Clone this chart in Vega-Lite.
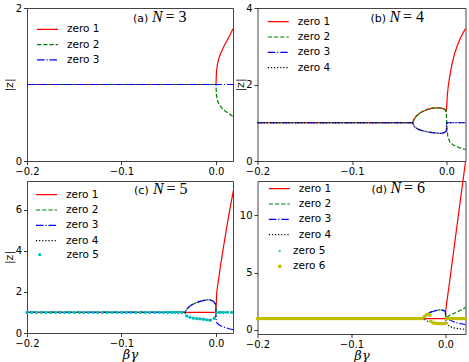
{
 "$schema": "https://vega.github.io/schema/vega-lite/v6.json",
 "padding": {"left": 2, "top": 2, "right": 0, "bottom": 0},
 "config": {
  "font": "DejaVu Sans",
  "view": {"stroke": "#444", "strokeWidth": 1},
  "axis": {"grid": false, "domain": false, "tickColor": "#222", "tickSize": 3.5, "tickWidth": 0.9, "labelFont": "DejaVu Sans", "labelFontSize": 10, "labelColor": "#000", "labelPadding": 2, "labelFlush": false, "titleFont": "DejaVu Sans", "titleFontSize": 11, "titleFontWeight": "normal", "titleColor": "#000"},
  "legend": {"title": null, "padding": 0, "labelFont": "DejaVu Sans", "labelFontSize": 10.5, "labelColor": "#000", "rowPadding": 4.3, "clipHeight": 11, "symbolStrokeWidth": 1.2},
  "line": {"strokeWidth": 1.2, "clip": true},
  "point": {"filled": true, "clip": true, "strokeWidth": 0, "opacity": 1}
 },
 "resolve": {
  "scale": {"x": "independent", "y": "independent", "color": "independent", "strokeDash": "independent", "fill": "independent", "shape": "independent", "size": "independent"},
  "legend": {"color": "independent", "strokeDash": "independent", "fill": "independent", "shape": "independent", "size": "independent"}
 },
 "columns": 2,
 "spacing": {"row": 20, "column": 24.5},
 "bounds": "flush",
 "align": "none",
 "concat": [
  {
   "width": 206, "height": 153,
   "layer": [
    {"data": {"name": "aL"}, "mark": "line",
     "encoding": {
      "x": {"field": "x", "type": "quantitative", "scale": {"domain": [-0.2, 0.018], "nice": false, "zero": false}, "axis": {"title": null, "values": [-0.2, -0.1, 0], "format": ".1f"}},
      "y": {"field": "y", "type": "quantitative", "scale": {"domain": [0, 2], "nice": false}, "axis": {"title": "|z|", "values": [0, 1, 2], "format": "d", "titleX": -13}},
      "color": {"field": "s", "type": "nominal", "scale": {"domain": ["zero 1", "zero 2", "zero 3"], "range": ["#ff0000", "#008000", "#0000ff"]}, "legend": {"orient": "none", "legendX": 9, "legendY": 15.8, "symbolSize": 441, "symbolType": "stroke", "labelOffset": 8}},
      "strokeDash": {"field": "s", "type": "nominal", "scale": {"domain": ["zero 1", "zero 2", "zero 3"], "range": [[1, 0], [4.3, 1.9], [7.5, 1.9, 1.2, 1.9]]}, "legend": {"orient": "none", "legendX": 9, "legendY": 15.8, "symbolSize": 441, "symbolType": "stroke", "labelOffset": 8}}
     }},
    {"data": {"values": [{"t": "(a)"}]}, "mark": {"type": "text", "align": "left", "baseline": "alphabetic", "font": "DejaVu Sans", "fontSize": 11}, "encoding": {"text": {"field": "t"}, "x": {"datum": -0.0878}, "y": {"datum": 1.817}}},
    {"data": {"values": [{"t": "N"}]}, "mark": {"type": "text", "align": "left", "baseline": "alphabetic", "font": "Liberation Serif", "fontSize": 16, "fontStyle": "italic"}, "encoding": {"text": {"field": "t"}, "x": {"datum": -0.0677}, "y": {"datum": 1.817}}},
    {"data": {"values": [{"t": "= 3"}]}, "mark": {"type": "text", "align": "left", "baseline": "alphabetic", "font": "Liberation Serif", "fontSize": 16}, "encoding": {"text": {"field": "t"}, "x": {"datum": -0.0535}, "y": {"datum": 1.817}}}
   ]
  },
  {
   "width": 208, "height": 153,
   "layer": [
    {"data": {"name": "bL"}, "mark": "line",
     "encoding": {
      "x": {"field": "x", "type": "quantitative", "scale": {"domain": [-0.2, 0.0201], "nice": false, "zero": false}, "axis": {"title": null, "values": [-0.2, -0.1, 0], "format": ".1f"}},
      "y": {"field": "y", "type": "quantitative", "scale": {"domain": [0, 4], "nice": false}, "axis": {"title": "|z|", "values": [0, 2, 4], "format": "d", "titleX": -12}},
      "color": {"field": "s", "type": "nominal", "scale": {"domain": ["zero 1", "zero 2", "zero 3", "zero 4"], "range": ["#ff0000", "#008000", "#0000ff", "#000000"]}, "legend": {"orient": "none", "legendX": 9.3, "legendY": 8.2, "symbolSize": 441, "symbolType": "stroke", "labelOffset": 8}},
      "strokeDash": {"field": "s", "type": "nominal", "scale": {"domain": ["zero 1", "zero 2", "zero 3", "zero 4"], "range": [[1, 0], [4.3, 1.9], [7.5, 1.9, 1.2, 1.9], [1.2, 1.9]]}, "legend": {"orient": "none", "legendX": 9.3, "legendY": 8.2, "symbolSize": 441, "symbolType": "stroke", "labelOffset": 8}}
     }},
    {"data": {"values": [{"t": "(b)"}]}, "mark": {"type": "text", "align": "left", "baseline": "alphabetic", "font": "DejaVu Sans", "fontSize": 11}, "encoding": {"text": {"field": "t"}, "x": {"datum": -0.0804}, "y": {"datum": 3.634}}},
    {"data": {"values": [{"t": "N"}]}, "mark": {"type": "text", "align": "left", "baseline": "alphabetic", "font": "Liberation Serif", "fontSize": 16, "fontStyle": "italic"}, "encoding": {"text": {"field": "t"}, "x": {"datum": -0.0603}, "y": {"datum": 3.634}}},
    {"data": {"values": [{"t": "= 4"}]}, "mark": {"type": "text", "align": "left", "baseline": "alphabetic", "font": "Liberation Serif", "fontSize": 16}, "encoding": {"text": {"field": "t"}, "x": {"datum": -0.0461}, "y": {"datum": 3.634}}}
   ]
  },
  {
   "width": 206, "height": 152,
   "layer": [
    {"data": {"name": "cL"}, "mark": "line",
     "encoding": {
      "x": {"field": "x", "type": "quantitative", "scale": {"domain": [-0.2, 0.018], "nice": false, "zero": false}, "axis": {"title": "βγ", "values": [-0.2, -0.1, 0], "format": ".1f", "titleFont": "DejaVu Serif", "titleFontStyle": "italic", "titleFontSize": 13, "titlePadding": 0}},
      "y": {"field": "y", "type": "quantitative", "scale": {"domain": [0, 7.4], "nice": false}, "axis": {"title": "|z|", "values": [0, 2, 4, 6], "format": "d", "titleX": -13}},
      "color": {"field": "s", "type": "nominal", "scale": {"domain": ["zero 1", "zero 2", "zero 3", "zero 4"], "range": ["#ff0000", "#008000", "#0000ff", "#000000"]}, "legend": {"orient": "none", "legendX": 8, "legendY": 8.2, "symbolSize": 441, "symbolType": "stroke", "labelOffset": 8}},
      "strokeDash": {"field": "s", "type": "nominal", "scale": {"domain": ["zero 1", "zero 2", "zero 3", "zero 4"], "range": [[1, 0], [4.3, 1.9], [7.5, 1.9, 1.2, 1.9], [1.2, 1.9]]}, "legend": {"orient": "none", "legendX": 8, "legendY": 8.2, "symbolSize": 441, "symbolType": "stroke", "labelOffset": 8}}
     }},
    {"data": {"name": "cP"}, "mark": {"type": "point", "size": 11},
     "encoding": {
      "x": {"field": "x", "type": "quantitative"},
      "y": {"field": "y", "type": "quantitative"},
      "fill": {"field": "s", "type": "nominal", "scale": {"domain": ["zero 5"], "range": ["#00bfbf"]}, "legend": {"orient": "none", "legendX": 7.5, "legendY": 68.2, "symbolSize": 11, "symbolType": "circle", "labelOffset": 21.5}}
     }},
    {"data": {"values": [{"t": "(c)"}]}, "mark": {"type": "text", "align": "left", "baseline": "alphabetic", "font": "DejaVu Sans", "fontSize": 11}, "encoding": {"text": {"field": "t"}, "x": {"datum": -0.0867}, "y": {"datum": 6.78}}},
    {"data": {"values": [{"t": "N"}]}, "mark": {"type": "text", "align": "left", "baseline": "alphabetic", "font": "Liberation Serif", "fontSize": 16, "fontStyle": "italic"}, "encoding": {"text": {"field": "t"}, "x": {"datum": -0.0667}, "y": {"datum": 6.78}}},
    {"data": {"values": [{"t": "= 5"}]}, "mark": {"type": "text", "align": "left", "baseline": "alphabetic", "font": "Liberation Serif", "fontSize": 16}, "encoding": {"text": {"field": "t"}, "x": {"datum": -0.0525}, "y": {"datum": 6.78}}}
   ]
  },
  {
   "width": 208, "height": 153,
   "layer": [
    {"data": {"name": "dL"}, "mark": "line",
     "encoding": {
      "x": {"field": "x", "type": "quantitative", "scale": {"domain": [-0.2, 0.0213], "nice": false, "zero": false}, "axis": {"title": "βγ", "values": [-0.2, -0.1, 0], "format": ".1f", "titleFont": "DejaVu Serif", "titleFontStyle": "italic", "titleFontSize": 13, "titlePadding": 0}},
      "y": {"field": "y", "type": "quantitative", "scale": {"domain": [-0.35, 13], "nice": false, "zero": false}, "axis": {"title": null, "values": [0, 5, 10], "format": "d"}},
      "color": {"field": "s", "type": "nominal", "scale": {"domain": ["zero 1", "zero 2", "zero 3", "zero 4"], "range": ["#ff0000", "#008000", "#0000ff", "#000000"]}, "legend": {"orient": "none", "legendX": 10.3, "legendY": 2.2, "symbolSize": 441, "symbolType": "stroke", "labelOffset": 8}},
      "strokeDash": {"field": "s", "type": "nominal", "scale": {"domain": ["zero 1", "zero 2", "zero 3", "zero 4"], "range": [[1, 0], [4.3, 1.9], [7.5, 1.9, 1.2, 1.9], [1.2, 1.9]]}, "legend": {"orient": "none", "legendX": 10.3, "legendY": 2.2, "symbolSize": 441, "symbolType": "stroke", "labelOffset": 8}}
     }},
    {"data": {"name": "dP"}, "mark": {"type": "point"},
     "encoding": {
      "x": {"field": "x", "type": "quantitative"},
      "y": {"field": "y", "type": "quantitative"},
      "fill": {"field": "s", "type": "nominal", "scale": {"domain": ["zero 5", "zero 6"], "range": ["#00bfbf", "#bfbf00"]}, "legend": {"orient": "none", "legendX": 17, "legendY": 64.5, "labelOffset": 8}},
      "shape": {"field": "s", "type": "nominal", "scale": {"domain": ["zero 5", "zero 6"], "range": ["circle", "square"]}, "legend": {"orient": "none", "legendX": 17, "legendY": 64.5, "labelOffset": 8}},
      "size": {"field": "s", "type": "nominal", "scale": {"domain": ["zero 5", "zero 6"], "range": [5, 10]}, "legend": {"orient": "none", "legendX": 17, "legendY": 64.5, "labelOffset": 8}}
     }},
    {"data": {"values": [{"t": "(d)"}]}, "mark": {"type": "text", "align": "left", "baseline": "alphabetic", "font": "DejaVu Sans", "fontSize": 11}, "encoding": {"text": {"field": "t"}, "x": {"datum": -0.0787}, "y": {"datum": 11.94}}},
    {"data": {"values": [{"t": "N"}]}, "mark": {"type": "text", "align": "left", "baseline": "alphabetic", "font": "Liberation Serif", "fontSize": 16, "fontStyle": "italic"}, "encoding": {"text": {"field": "t"}, "x": {"datum": -0.0585}, "y": {"datum": 11.94}}},
    {"data": {"values": [{"t": "= 6"}]}, "mark": {"type": "text", "align": "left", "baseline": "alphabetic", "font": "Liberation Serif", "fontSize": 16}, "encoding": {"text": {"field": "t"}, "x": {"datum": -0.0442}, "y": {"datum": 11.94}}}
   ]
  }
 ],
 "datasets": {
  "aL": [
   {"s": "zero 1", "x": -0.2, "y": 1}, {"s": "zero 1", "x": 0, "y": 1}, {"s": "zero 1", "x": 0.0005, "y": 1.17}, {"s": "zero 1", "x": 0.0015, "y": 1.26}, {"s": "zero 1", "x": 0.003, "y": 1.34}, {"s": "zero 1", "x": 0.005, "y": 1.41}, {"s": "zero 1", "x": 0.008, "y": 1.49}, {"s": "zero 1", "x": 0.011, "y": 1.56}, {"s": "zero 1", "x": 0.0145, "y": 1.64}, {"s": "zero 1", "x": 0.018, "y": 1.73},
   {"s": "zero 2", "x": -0.2, "y": 1}, {"s": "zero 2", "x": 0, "y": 1}, {"s": "zero 2", "x": 0.0005, "y": 0.86}, {"s": "zero 2", "x": 0.0015, "y": 0.79}, {"s": "zero 2", "x": 0.003, "y": 0.75}, {"s": "zero 2", "x": 0.005, "y": 0.71}, {"s": "zero 2", "x": 0.008, "y": 0.67}, {"s": "zero 2", "x": 0.011, "y": 0.64}, {"s": "zero 2", "x": 0.0145, "y": 0.61}, {"s": "zero 2", "x": 0.018, "y": 0.58},
   {"s": "zero 3", "x": -0.2, "y": 1}, {"s": "zero 3", "x": 0.018, "y": 1}
  ],
  "bL": [
   {"s": "zero 1", "x": -0.2, "y": 1}, {"s": "zero 1", "x": -0.036, "y": 1}, {"s": "zero 1", "x": -0.034, "y": 1.1}, {"s": "zero 1", "x": -0.032, "y": 1.17}, {"s": "zero 1", "x": -0.029, "y": 1.24}, {"s": "zero 1", "x": -0.025, "y": 1.3}, {"s": "zero 1", "x": -0.02, "y": 1.35}, {"s": "zero 1", "x": -0.015, "y": 1.38}, {"s": "zero 1", "x": -0.009, "y": 1.39}, {"s": "zero 1", "x": -0.005, "y": 1.38}, {"s": "zero 1", "x": -0.002, "y": 1.35}, {"s": "zero 1", "x": -0.0003, "y": 1.3}, {"s": "zero 1", "x": 0.0003, "y": 1.45}, {"s": "zero 1", "x": 0.0008, "y": 1.7}, {"s": "zero 1", "x": 0.0018, "y": 1.95}, {"s": "zero 1", "x": 0.0032, "y": 2.18}, {"s": "zero 1", "x": 0.0055, "y": 2.5}, {"s": "zero 1", "x": 0.0085, "y": 2.8}, {"s": "zero 1", "x": 0.0115, "y": 3.02}, {"s": "zero 1", "x": 0.0145, "y": 3.2}, {"s": "zero 1", "x": 0.0175, "y": 3.35}, {"s": "zero 1", "x": 0.0201, "y": 3.46},
   {"s": "zero 2", "x": -0.2, "y": 1}, {"s": "zero 2", "x": -0.036, "y": 1}, {"s": "zero 2", "x": -0.034, "y": 1.1}, {"s": "zero 2", "x": -0.032, "y": 1.17}, {"s": "zero 2", "x": -0.029, "y": 1.24}, {"s": "zero 2", "x": -0.025, "y": 1.3}, {"s": "zero 2", "x": -0.02, "y": 1.35}, {"s": "zero 2", "x": -0.015, "y": 1.38}, {"s": "zero 2", "x": -0.009, "y": 1.39}, {"s": "zero 2", "x": -0.005, "y": 1.38}, {"s": "zero 2", "x": -0.002, "y": 1.35}, {"s": "zero 2", "x": -0.0003, "y": 1.3}, {"s": "zero 2", "x": 0.0003, "y": 0.95}, {"s": "zero 2", "x": 0.0013, "y": 0.65}, {"s": "zero 2", "x": 0.0035, "y": 0.5}, {"s": "zero 2", "x": 0.0065, "y": 0.43}, {"s": "zero 2", "x": 0.01, "y": 0.38}, {"s": "zero 2", "x": 0.0134, "y": 0.35}, {"s": "zero 2", "x": 0.0201, "y": 0.3},
   {"s": "zero 3", "x": -0.2, "y": 1}, {"s": "zero 3", "x": -0.036, "y": 1}, {"s": "zero 3", "x": -0.034, "y": 0.9}, {"s": "zero 3", "x": -0.032, "y": 0.86}, {"s": "zero 3", "x": -0.029, "y": 0.82}, {"s": "zero 3", "x": -0.025, "y": 0.79}, {"s": "zero 3", "x": -0.02, "y": 0.76}, {"s": "zero 3", "x": -0.015, "y": 0.74}, {"s": "zero 3", "x": -0.01, "y": 0.73}, {"s": "zero 3", "x": -0.006, "y": 0.72}, {"s": "zero 3", "x": -0.0025, "y": 0.74}, {"s": "zero 3", "x": -0.0003, "y": 0.78}, {"s": "zero 3", "x": 0.0003, "y": 1}, {"s": "zero 3", "x": 0.0201, "y": 1},
   {"s": "zero 4", "x": -0.2, "y": 1}, {"s": "zero 4", "x": -0.036, "y": 1}, {"s": "zero 4", "x": -0.034, "y": 0.9}, {"s": "zero 4", "x": -0.032, "y": 0.86}, {"s": "zero 4", "x": -0.029, "y": 0.82}, {"s": "zero 4", "x": -0.025, "y": 0.79}, {"s": "zero 4", "x": -0.02, "y": 0.76}, {"s": "zero 4", "x": -0.015, "y": 0.74}, {"s": "zero 4", "x": -0.01, "y": 0.73}, {"s": "zero 4", "x": -0.006, "y": 0.72}, {"s": "zero 4", "x": -0.0025, "y": 0.74}, {"s": "zero 4", "x": -0.0003, "y": 0.78}, {"s": "zero 4", "x": 0.0003, "y": 1}, {"s": "zero 4", "x": 0.0201, "y": 1}
  ],
  "cL": [
   {"s": "zero 1", "x": -0.2, "y": 1}, {"s": "zero 1", "x": 0, "y": 1}, {"s": "zero 1", "x": 0.0003, "y": 1.45}, {"s": "zero 1", "x": 0.0008, "y": 2.0}, {"s": "zero 1", "x": 0.0025, "y": 2.54}, {"s": "zero 1", "x": 0.005, "y": 3.35}, {"s": "zero 1", "x": 0.0078, "y": 4.16}, {"s": "zero 1", "x": 0.0105, "y": 4.9}, {"s": "zero 1", "x": 0.0131, "y": 5.63}, {"s": "zero 1", "x": 0.0158, "y": 6.3}, {"s": "zero 1", "x": 0.0184, "y": 6.93},
   {"s": "zero 2", "x": -0.2, "y": 1}, {"s": "zero 2", "x": -0.033, "y": 1}, {"s": "zero 2", "x": -0.031, "y": 1.15}, {"s": "zero 2", "x": -0.0275, "y": 1.32}, {"s": "zero 2", "x": -0.024, "y": 1.41}, {"s": "zero 2", "x": -0.0204, "y": 1.48}, {"s": "zero 2", "x": -0.017, "y": 1.54}, {"s": "zero 2", "x": -0.0134, "y": 1.58}, {"s": "zero 2", "x": -0.01, "y": 1.61}, {"s": "zero 2", "x": -0.0063, "y": 1.61}, {"s": "zero 2", "x": -0.0028, "y": 1.55}, {"s": "zero 2", "x": -0.0005, "y": 1.4}, {"s": "zero 2", "x": 0.0005, "y": 1}, {"s": "zero 2", "x": 0.018, "y": 1},
   {"s": "zero 3", "x": -0.2, "y": 1}, {"s": "zero 3", "x": -0.033, "y": 1}, {"s": "zero 3", "x": -0.031, "y": 1.15}, {"s": "zero 3", "x": -0.0275, "y": 1.32}, {"s": "zero 3", "x": -0.024, "y": 1.41}, {"s": "zero 3", "x": -0.0204, "y": 1.48}, {"s": "zero 3", "x": -0.017, "y": 1.54}, {"s": "zero 3", "x": -0.0134, "y": 1.58}, {"s": "zero 3", "x": -0.01, "y": 1.61}, {"s": "zero 3", "x": -0.0063, "y": 1.61}, {"s": "zero 3", "x": -0.0028, "y": 1.55}, {"s": "zero 3", "x": -0.0005, "y": 1.4}, {"s": "zero 3", "x": 0.0002, "y": 0.62}, {"s": "zero 3", "x": 0.0008, "y": 0.5}, {"s": "zero 3", "x": 0.003, "y": 0.4}, {"s": "zero 3", "x": 0.006, "y": 0.33}, {"s": "zero 3", "x": 0.0095, "y": 0.27}, {"s": "zero 3", "x": 0.013, "y": 0.22}, {"s": "zero 3", "x": 0.018, "y": 0.16},
   {"s": "zero 4", "x": -0.2, "y": 1}, {"s": "zero 4", "x": -0.033, "y": 1}, {"s": "zero 4", "x": -0.031, "y": 0.85}, {"s": "zero 4", "x": -0.0275, "y": 0.77}, {"s": "zero 4", "x": -0.024, "y": 0.72}, {"s": "zero 4", "x": -0.0204, "y": 0.7}, {"s": "zero 4", "x": -0.017, "y": 0.69}, {"s": "zero 4", "x": -0.0134, "y": 0.67}, {"s": "zero 4", "x": -0.0099, "y": 0.64}, {"s": "zero 4", "x": -0.0063, "y": 0.62}, {"s": "zero 4", "x": -0.002, "y": 0.7}, {"s": "zero 4", "x": -0.0005, "y": 0.75}, {"s": "zero 4", "x": 0.0005, "y": 1}, {"s": "zero 4", "x": 0.018, "y": 1}
  ],
  "cP": [
   {"s": "zero 5", "x": -0.2, "y": 1}, {"s": "zero 5", "x": -0.195, "y": 1}, {"s": "zero 5", "x": -0.19, "y": 1}, {"s": "zero 5", "x": -0.185, "y": 1}, {"s": "zero 5", "x": -0.18, "y": 1}, {"s": "zero 5", "x": -0.175, "y": 1}, {"s": "zero 5", "x": -0.17, "y": 1}, {"s": "zero 5", "x": -0.165, "y": 1}, {"s": "zero 5", "x": -0.16, "y": 1}, {"s": "zero 5", "x": -0.155, "y": 1}, {"s": "zero 5", "x": -0.15, "y": 1}, {"s": "zero 5", "x": -0.145, "y": 1}, {"s": "zero 5", "x": -0.14, "y": 1}, {"s": "zero 5", "x": -0.135, "y": 1}, {"s": "zero 5", "x": -0.13, "y": 1}, {"s": "zero 5", "x": -0.125, "y": 1}, {"s": "zero 5", "x": -0.12, "y": 1}, {"s": "zero 5", "x": -0.115, "y": 1}, {"s": "zero 5", "x": -0.11, "y": 1}, {"s": "zero 5", "x": -0.105, "y": 1}, {"s": "zero 5", "x": -0.1, "y": 1}, {"s": "zero 5", "x": -0.095, "y": 1}, {"s": "zero 5", "x": -0.09, "y": 1}, {"s": "zero 5", "x": -0.085, "y": 1}, {"s": "zero 5", "x": -0.08, "y": 1}, {"s": "zero 5", "x": -0.075, "y": 1}, {"s": "zero 5", "x": -0.07, "y": 1}, {"s": "zero 5", "x": -0.065, "y": 1}, {"s": "zero 5", "x": -0.06, "y": 1}, {"s": "zero 5", "x": -0.0555, "y": 1}, {"s": "zero 5", "x": -0.051, "y": 1}, {"s": "zero 5", "x": -0.0469, "y": 1}, {"s": "zero 5", "x": -0.0434, "y": 1}, {"s": "zero 5", "x": -0.0399, "y": 1}, {"s": "zero 5", "x": -0.0363, "y": 1},
   {"s": "zero 5", "x": -0.031, "y": 0.83}, {"s": "zero 5", "x": -0.0275, "y": 0.77}, {"s": "zero 5", "x": -0.024, "y": 0.72}, {"s": "zero 5", "x": -0.0204, "y": 0.7}, {"s": "zero 5", "x": -0.0169, "y": 0.69}, {"s": "zero 5", "x": -0.0134, "y": 0.67}, {"s": "zero 5", "x": -0.0099, "y": 0.64}, {"s": "zero 5", "x": -0.0063, "y": 0.62}, {"s": "zero 5", "x": -0.0018, "y": 0.72},
   {"s": "zero 5", "x": 0.0007, "y": 1}, {"s": "zero 5", "x": 0.0042, "y": 1}, {"s": "zero 5", "x": 0.0078, "y": 1}, {"s": "zero 5", "x": 0.012, "y": 1}, {"s": "zero 5", "x": 0.0166, "y": 1}
  ],
  "dL": [
   {"s": "zero 1", "x": -0.2, "y": 1}, {"s": "zero 1", "x": 0, "y": 1}, {"s": "zero 1", "x": 0.0003, "y": 1.75}, {"s": "zero 1", "x": 0.005, "y": 4.6}, {"s": "zero 1", "x": 0.01, "y": 7.7}, {"s": "zero 1", "x": 0.015, "y": 10.8}, {"s": "zero 1", "x": 0.0186, "y": 13.0}, {"s": "zero 1", "x": 0.0213, "y": 14.7},
   {"s": "zero 2", "x": -0.2, "y": 1}, {"s": "zero 2", "x": -0.023, "y": 1}, {"s": "zero 2", "x": -0.021, "y": 1.3}, {"s": "zero 2", "x": -0.018, "y": 1.47}, {"s": "zero 2", "x": -0.015, "y": 1.58}, {"s": "zero 2", "x": -0.012, "y": 1.66}, {"s": "zero 2", "x": -0.009, "y": 1.72}, {"s": "zero 2", "x": -0.006, "y": 1.75}, {"s": "zero 2", "x": -0.003, "y": 1.73}, {"s": "zero 2", "x": -0.001, "y": 1.66}, {"s": "zero 2", "x": -0.0002, "y": 1.58}, {"s": "zero 2", "x": 0.0005, "y": 1.07}, {"s": "zero 2", "x": 0.005, "y": 1.3}, {"s": "zero 2", "x": 0.0106, "y": 1.5}, {"s": "zero 2", "x": 0.016, "y": 1.72}, {"s": "zero 2", "x": 0.0213, "y": 1.95},
   {"s": "zero 3", "x": -0.2, "y": 1}, {"s": "zero 3", "x": -0.023, "y": 1}, {"s": "zero 3", "x": -0.021, "y": 1.3}, {"s": "zero 3", "x": -0.018, "y": 1.47}, {"s": "zero 3", "x": -0.015, "y": 1.58}, {"s": "zero 3", "x": -0.012, "y": 1.66}, {"s": "zero 3", "x": -0.009, "y": 1.72}, {"s": "zero 3", "x": -0.006, "y": 1.75}, {"s": "zero 3", "x": -0.003, "y": 1.73}, {"s": "zero 3", "x": -0.001, "y": 1.66}, {"s": "zero 3", "x": -0.0002, "y": 1.58}, {"s": "zero 3", "x": 0.0005, "y": 1.02}, {"s": "zero 3", "x": 0.0035, "y": 0.92}, {"s": "zero 3", "x": 0.0075, "y": 0.76}, {"s": "zero 3", "x": 0.0106, "y": 0.66}, {"s": "zero 3", "x": 0.016, "y": 0.55}, {"s": "zero 3", "x": 0.0213, "y": 0.48},
   {"s": "zero 4", "x": -0.2, "y": 1}, {"s": "zero 4", "x": -0.023, "y": 1}, {"s": "zero 4", "x": -0.021, "y": 0.82}, {"s": "zero 4", "x": -0.018, "y": 0.72}, {"s": "zero 4", "x": -0.015, "y": 0.66}, {"s": "zero 4", "x": -0.012, "y": 0.62}, {"s": "zero 4", "x": -0.009, "y": 0.59}, {"s": "zero 4", "x": -0.006, "y": 0.57}, {"s": "zero 4", "x": -0.003, "y": 0.57}, {"s": "zero 4", "x": -0.001, "y": 0.6}, {"s": "zero 4", "x": -0.0002, "y": 0.64}, {"s": "zero 4", "x": 0.0005, "y": 0.9}, {"s": "zero 4", "x": 0.002, "y": 0.5}, {"s": "zero 4", "x": 0.004, "y": 0.33}, {"s": "zero 4", "x": 0.007, "y": 0.22}, {"s": "zero 4", "x": 0.0106, "y": 0.15}, {"s": "zero 4", "x": 0.015, "y": 0.1}, {"s": "zero 4", "x": 0.0213, "y": 0.07}
  ],
  "dP": [
   {"s": "zero 5", "x": -0.2, "y": 1}, {"s": "zero 5", "x": -0.195, "y": 1}, {"s": "zero 5", "x": -0.19, "y": 1}, {"s": "zero 5", "x": -0.185, "y": 1}, {"s": "zero 5", "x": -0.18, "y": 1}, {"s": "zero 5", "x": -0.175, "y": 1}, {"s": "zero 5", "x": -0.17, "y": 1}, {"s": "zero 5", "x": -0.165, "y": 1}, {"s": "zero 5", "x": -0.16, "y": 1}, {"s": "zero 5", "x": -0.155, "y": 1}, {"s": "zero 5", "x": -0.15, "y": 1}, {"s": "zero 5", "x": -0.145, "y": 1}, {"s": "zero 5", "x": -0.14, "y": 1}, {"s": "zero 5", "x": -0.135, "y": 1}, {"s": "zero 5", "x": -0.13, "y": 1}, {"s": "zero 5", "x": -0.125, "y": 1}, {"s": "zero 5", "x": -0.12, "y": 1}, {"s": "zero 5", "x": -0.115, "y": 1}, {"s": "zero 5", "x": -0.11, "y": 1}, {"s": "zero 5", "x": -0.105, "y": 1}, {"s": "zero 5", "x": -0.1, "y": 1}, {"s": "zero 5", "x": -0.095, "y": 1}, {"s": "zero 5", "x": -0.09, "y": 1}, {"s": "zero 5", "x": -0.085, "y": 1}, {"s": "zero 5", "x": -0.08, "y": 1}, {"s": "zero 5", "x": -0.075, "y": 1}, {"s": "zero 5", "x": -0.07, "y": 1}, {"s": "zero 5", "x": -0.065, "y": 1}, {"s": "zero 5", "x": -0.06, "y": 1}, {"s": "zero 5", "x": -0.055, "y": 1}, {"s": "zero 5", "x": -0.05, "y": 1}, {"s": "zero 5", "x": -0.045, "y": 1}, {"s": "zero 5", "x": -0.04, "y": 1}, {"s": "zero 5", "x": -0.035, "y": 1}, {"s": "zero 5", "x": -0.03, "y": 1}, {"s": "zero 5", "x": -0.025, "y": 1},
   {"s": "zero 5", "x": 0.001, "y": 1}, {"s": "zero 5", "x": 0.006, "y": 1}, {"s": "zero 5", "x": 0.011, "y": 1}, {"s": "zero 5", "x": 0.016, "y": 1}, {"s": "zero 5", "x": 0.021, "y": 1},
   {"s": "zero 6", "x": -0.2, "y": 1}, {"s": "zero 6", "x": -0.1975, "y": 1}, {"s": "zero 6", "x": -0.195, "y": 1}, {"s": "zero 6", "x": -0.1925, "y": 1}, {"s": "zero 6", "x": -0.19, "y": 1}, {"s": "zero 6", "x": -0.1875, "y": 1}, {"s": "zero 6", "x": -0.185, "y": 1}, {"s": "zero 6", "x": -0.1825, "y": 1}, {"s": "zero 6", "x": -0.18, "y": 1}, {"s": "zero 6", "x": -0.1775, "y": 1}, {"s": "zero 6", "x": -0.175, "y": 1}, {"s": "zero 6", "x": -0.1725, "y": 1}, {"s": "zero 6", "x": -0.17, "y": 1}, {"s": "zero 6", "x": -0.1675, "y": 1}, {"s": "zero 6", "x": -0.165, "y": 1}, {"s": "zero 6", "x": -0.1625, "y": 1}, {"s": "zero 6", "x": -0.16, "y": 1}, {"s": "zero 6", "x": -0.1575, "y": 1}, {"s": "zero 6", "x": -0.155, "y": 1}, {"s": "zero 6", "x": -0.1525, "y": 1}, {"s": "zero 6", "x": -0.15, "y": 1}, {"s": "zero 6", "x": -0.1475, "y": 1}, {"s": "zero 6", "x": -0.145, "y": 1}, {"s": "zero 6", "x": -0.1425, "y": 1}, {"s": "zero 6", "x": -0.14, "y": 1}, {"s": "zero 6", "x": -0.1375, "y": 1}, {"s": "zero 6", "x": -0.135, "y": 1}, {"s": "zero 6", "x": -0.1325, "y": 1}, {"s": "zero 6", "x": -0.13, "y": 1}, {"s": "zero 6", "x": -0.1275, "y": 1}, {"s": "zero 6", "x": -0.125, "y": 1}, {"s": "zero 6", "x": -0.1225, "y": 1}, {"s": "zero 6", "x": -0.12, "y": 1}, {"s": "zero 6", "x": -0.1175, "y": 1}, {"s": "zero 6", "x": -0.115, "y": 1}, {"s": "zero 6", "x": -0.1125, "y": 1}, {"s": "zero 6", "x": -0.11, "y": 1}, {"s": "zero 6", "x": -0.1075, "y": 1}, {"s": "zero 6", "x": -0.105, "y": 1}, {"s": "zero 6", "x": -0.1025, "y": 1}, {"s": "zero 6", "x": -0.1, "y": 1}, {"s": "zero 6", "x": -0.0975, "y": 1}, {"s": "zero 6", "x": -0.095, "y": 1}, {"s": "zero 6", "x": -0.0925, "y": 1}, {"s": "zero 6", "x": -0.09, "y": 1}, {"s": "zero 6", "x": -0.0875, "y": 1}, {"s": "zero 6", "x": -0.085, "y": 1}, {"s": "zero 6", "x": -0.0825, "y": 1}, {"s": "zero 6", "x": -0.08, "y": 1}, {"s": "zero 6", "x": -0.0775, "y": 1}, {"s": "zero 6", "x": -0.075, "y": 1}, {"s": "zero 6", "x": -0.0725, "y": 1}, {"s": "zero 6", "x": -0.07, "y": 1}, {"s": "zero 6", "x": -0.0675, "y": 1}, {"s": "zero 6", "x": -0.065, "y": 1}, {"s": "zero 6", "x": -0.0625, "y": 1}, {"s": "zero 6", "x": -0.06, "y": 1}, {"s": "zero 6", "x": -0.0575, "y": 1}, {"s": "zero 6", "x": -0.055, "y": 1}, {"s": "zero 6", "x": -0.0525, "y": 1}, {"s": "zero 6", "x": -0.05, "y": 1}, {"s": "zero 6", "x": -0.0475, "y": 1}, {"s": "zero 6", "x": -0.045, "y": 1}, {"s": "zero 6", "x": -0.0425, "y": 1}, {"s": "zero 6", "x": -0.04, "y": 1}, {"s": "zero 6", "x": -0.0375, "y": 1}, {"s": "zero 6", "x": -0.035, "y": 1}, {"s": "zero 6", "x": -0.0325, "y": 1}, {"s": "zero 6", "x": -0.03, "y": 1}, {"s": "zero 6", "x": -0.0275, "y": 1}, {"s": "zero 6", "x": -0.025, "y": 1},
   {"s": "zero 6", "x": -0.0225, "y": 1.15}, {"s": "zero 6", "x": -0.0205, "y": 1.3}, {"s": "zero 6", "x": -0.0185, "y": 1.38}, {"s": "zero 6", "x": -0.0165, "y": 1.3},
   {"s": "zero 6", "x": -0.0155, "y": 0.75}, {"s": "zero 6", "x": -0.013, "y": 0.62}, {"s": "zero 6", "x": -0.0105, "y": 0.58}, {"s": "zero 6", "x": -0.008, "y": 0.56}, {"s": "zero 6", "x": -0.0055, "y": 0.55}, {"s": "zero 6", "x": -0.003, "y": 0.55}, {"s": "zero 6", "x": -0.0005, "y": 0.57},
   {"s": "zero 6", "x": 0.001, "y": 1}, {"s": "zero 6", "x": 0.0035, "y": 1}, {"s": "zero 6", "x": 0.006, "y": 1}, {"s": "zero 6", "x": 0.0085, "y": 1}, {"s": "zero 6", "x": 0.011, "y": 1}, {"s": "zero 6", "x": 0.0135, "y": 1}, {"s": "zero 6", "x": 0.016, "y": 1}, {"s": "zero 6", "x": 0.0185, "y": 1}, {"s": "zero 6", "x": 0.021, "y": 1}
  ]
 }
}
